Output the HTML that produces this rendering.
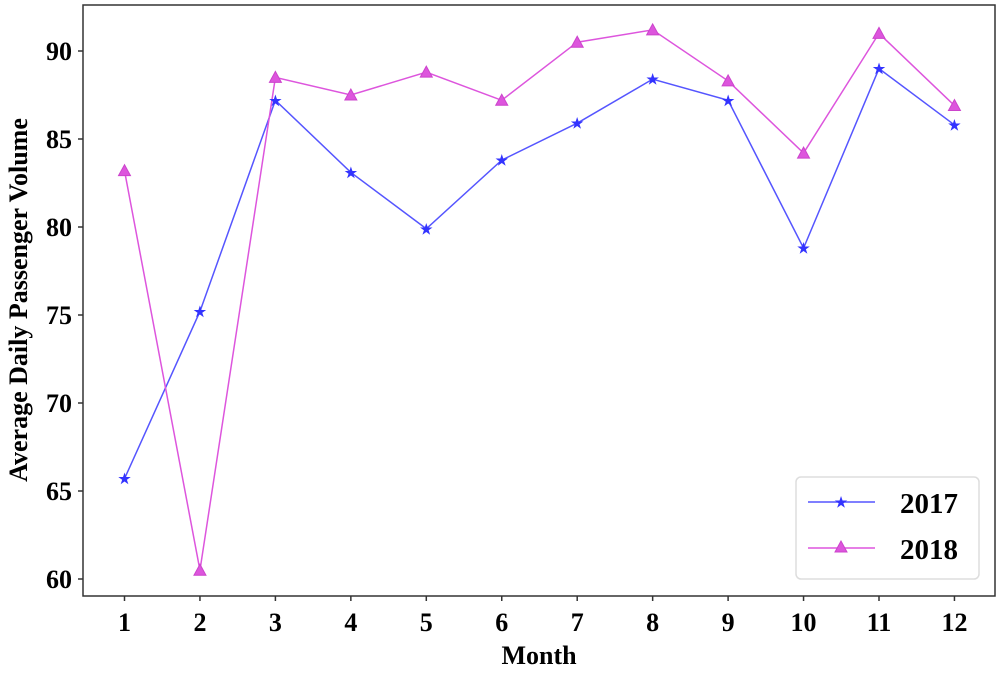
<!DOCTYPE html><html><head><style>body{margin:0;background:#fff}</style></head><body>
<svg width="998" height="668" xmlns="http://www.w3.org/2000/svg" font-family="Liberation Serif, serif" font-weight="bold">
<rect width="998" height="668" fill="#fff"/>
<rect x="83" y="5" width="912" height="591" fill="none" stroke="#333" stroke-width="1.5"/>
<g id="g"></g>
<text x="27" y="300" font-size="26" text-anchor="middle" transform="rotate(-90 27 300)">Average Daily Passenger Volume</text>
<text x="539" y="664" font-size="26" text-anchor="middle">Month</text>
<rect x="796" y="477" width="183" height="102" rx="5" fill="#fff" stroke="#ddd" stroke-width="1.5"/>
<line x1="808" y1="502" x2="875" y2="502" stroke="#5555ff" stroke-width="1.5"/>
<text x="841" y="507" font-size="14" fill="#3333ff" text-anchor="middle">★</text>
<line x1="808" y1="548" x2="875" y2="548" stroke="#dd55dd" stroke-width="1.5"/>
<polygon points="841,541 835,552 847,552" fill="#dd55dd" stroke="#cc44cc"/>
<text x="900" y="513" font-size="29">2017</text>
<text x="900" y="559" font-size="29">2018</text>
</svg>
<script>
const g=document.getElementById('g');let s='';
const X=m=>124.5+(m-1)*75.45, Y=v=>579-(v-60)*17.6;
for(let v=60;v<=90;v+=5){const y=Y(v);s+=`<line x1="78" y1="${y}" x2="83" y2="${y}" stroke="#333" stroke-width="1.5"/><text x="72" y="${y+9}" font-size="26" text-anchor="end">${v}</text>`;}
for(let m=1;m<=12;m++){const x=X(m);s+=`<line x1="${x}" y1="596" x2="${x}" y2="601" stroke="#333" stroke-width="1.5"/><text x="${x}" y="631" font-size="26" text-anchor="middle">${m}</text>`;}
const a=[65.7,75.2,87.2,83.1,79.9,83.8,85.9,88.4,87.2,78.8,89,85.8],b=[83.2,60.5,88.5,87.5,88.8,87.2,90.5,91.2,88.3,84.2,91,86.9];
s+=`<polyline fill="none" stroke="#5555ff" stroke-width="1.5" points="${a.map((v,i)=>X(i+1)+','+Y(v)).join(' ')}"/>`;
s+=`<polyline fill="none" stroke="#dd55dd" stroke-width="1.5" points="${b.map((v,i)=>X(i+1)+','+Y(v)).join(' ')}"/>`;
a.forEach((v,i)=>s+=`<text x="${X(i+1)}" y="${Y(v)+5}" font-size="14" fill="#3333ff" text-anchor="middle">★</text>`);
b.forEach((v,i)=>{const x=X(i+1),y=Y(v);s+=`<polygon points="${x},${y-6} ${x-6},${y+5} ${x+6},${y+5}" fill="#dd55dd" stroke="#cc44cc"/>`});
g.innerHTML=s;
</script>
</body></html>
